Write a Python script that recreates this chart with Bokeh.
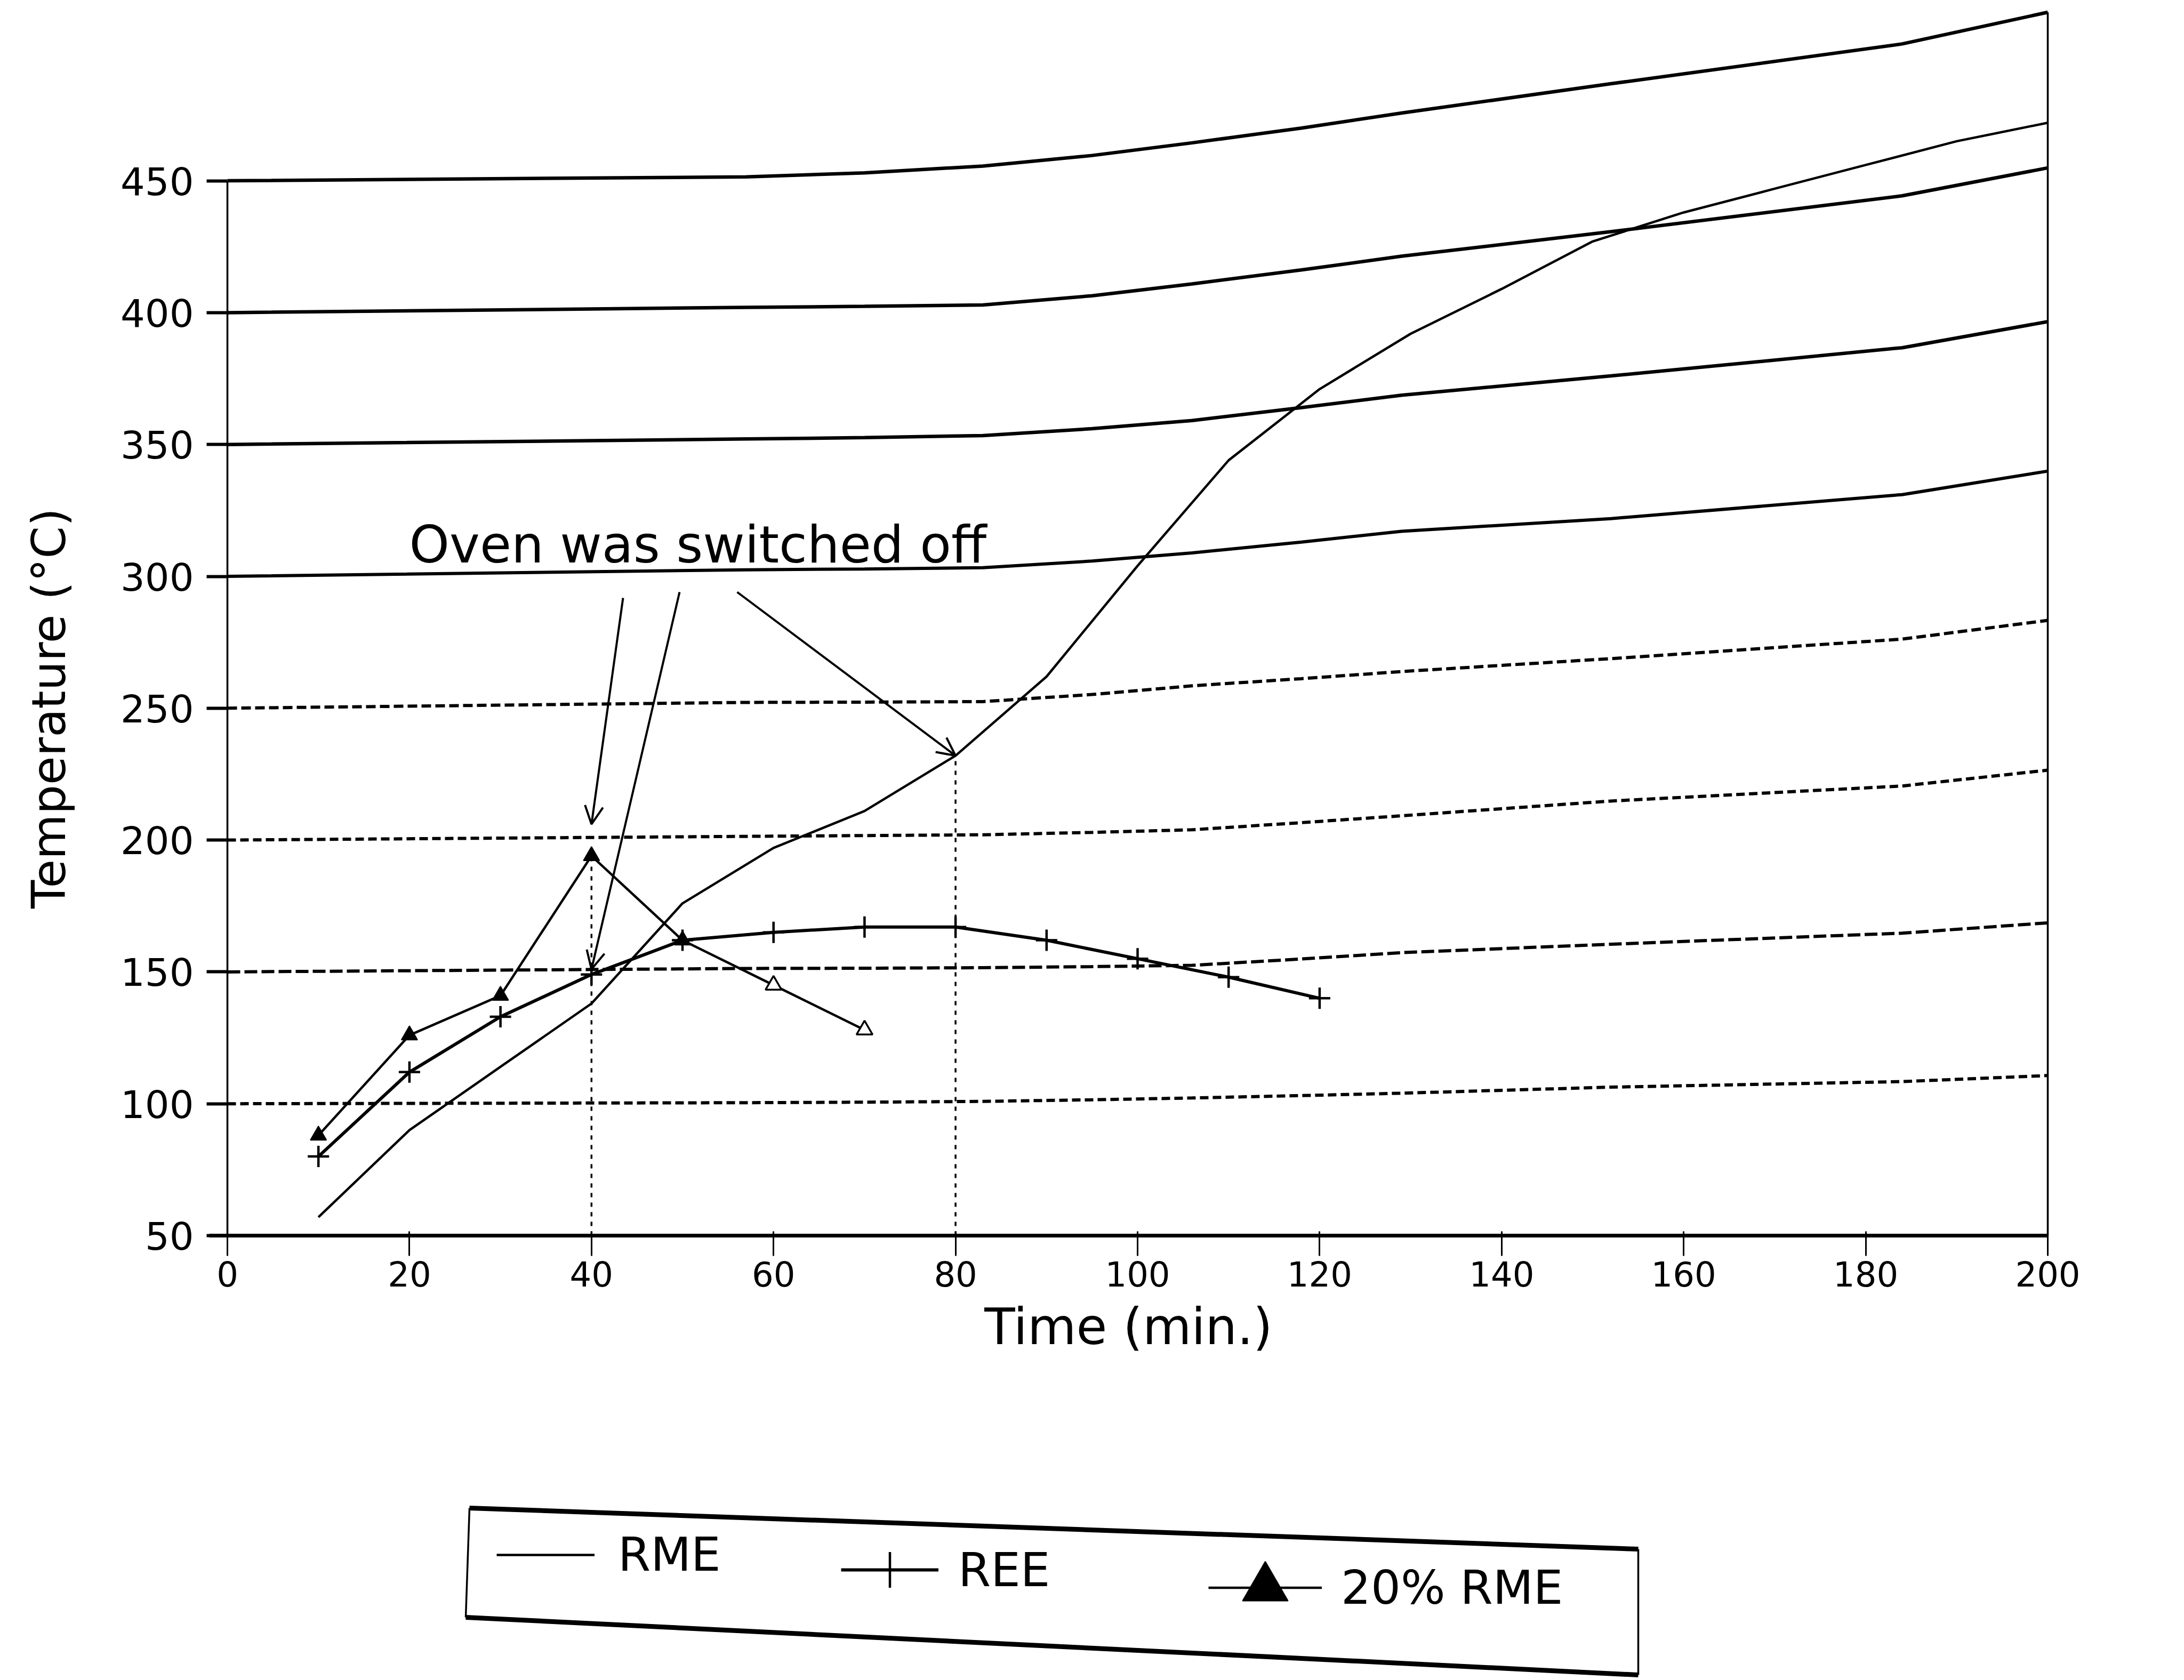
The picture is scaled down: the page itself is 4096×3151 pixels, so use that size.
from bokeh.plotting import figure
from bokeh.models import (Range1d, FixedTicker, Legend, LegendItem, Label,
                          Arrow, OpenHead)
from bokeh.embed import file_html
from bokeh.resources import INLINE

# ---------------- data ----------------
time_rme = [10, 20, 30, 40, 50, 60, 70, 80, 90, 100, 110, 120, 130, 140,
            150, 160, 170, 180, 190, 200]
temp_rme = [57, 90, 114, 138, 176, 197, 211, 232, 262, 304, 344, 371, 392,
            409, 427, 438, 447, 456, 465, 472]

time_ree = [10, 20, 30, 40, 50, 60, 70, 80, 90, 100, 110, 120]
temp_ree = [80, 112, 133, 149, 162, 165, 167, 167, 162, 155, 148, 140]

time_mix = [10, 20, 30, 40, 50, 60, 70]
temp_mix = [88, 126, 141, 194, 162, 145, 128]

x_ticks = [0, 20, 40, 60, 80, 100, 120, 140, 160, 180, 200]
y_ticks = [50, 100, 150, 200, 250, 300, 350, 400, 450]

# reference lines of the scanned grid (they drift upward to the right)
grid_time = [0, 57, 70, 83, 95, 106, 118, 129, 152, 184, 200]
drift_450 = [0, 1.5, 3.0, 5.6, 9.6, 14.4, 20.0, 25.7, 36.8, 51.9, 63.9]
drift_400 = [0, 2.0, 2.4, 2.9, 6.4, 10.9, 16.2, 21.4, 30.7, 44.3, 54.9]
drift_350 = [0, 2.1, 2.6, 3.4, 6.0, 9.1, 14.0, 18.7, 26.0, 36.7, 46.6]
drift_300 = [0, 2.5, 2.8, 3.3, 5.8, 8.9, 13.0, 17.1, 21.9, 31.0, 39.9]
drift_250 = [0, 2.2, 2.3, 2.5, 5.2, 8.5, 11.2, 13.9, 18.8, 26.2, 33.3]
drift_200 = [0, 1.4, 1.7, 2.0, 2.9, 3.9, 6.6, 9.2, 14.8, 20.5, 26.5]
drift_150 = [0, 1.3, 1.4, 1.6, 2.0, 2.5, 4.9, 7.3, 10.5, 14.7, 18.6]
drift_100 = [0, 0.4, 0.6, 0.9, 1.5, 2.2, 3.1, 4.0, 6.3, 8.4, 10.7]

annotation_text = "Oven was switched off"

# ---------------- layout ----------------
W, H = 4096, 3151
PX_X = 17.07   # pixels per minute
PX_Y = 4.946   # pixels per degree
X_START = -426 / PX_X
X_END = X_START + W / PX_X
Y_END = 50 + 2317 / PX_Y
Y_START = Y_END - H / PX_Y


def sx(px):
    return X_START + px / PX_X


def sy(py):
    return Y_END - py / PX_Y


FONT = "DejaVu Sans"
INK = "black"

p = figure(width=W, height=H, x_range=Range1d(X_START, X_END),
           y_range=Range1d(Y_START, Y_END), output_backend="svg",
           toolbar_location=None, min_border=0, title=None)
p.outline_line_color = None
p.grid.visible = False
p.background_fill_color = "white"
p.border_fill_color = "white"

# x axis
xa = p.xaxis[0]
xa.fixed_location = 50
xa.bounds = (-2, 200)
xa.ticker = FixedTicker(ticks=x_ticks)
xa.minor_tick_line_color = None
xa.axis_line_color = INK
xa.major_tick_line_color = INK
xa.major_tick_out = 38
xa.major_tick_in = 8
xa.major_tick_line_width = 3
xa.axis_line_width = 7
xa.major_label_text_font = FONT
xa.major_label_text_font_size = "64px"
xa.major_label_text_color = INK
xa.major_label_standoff = 10
xa.axis_label = "Time (min.)"
xa.axis_label_text_font = FONT
xa.axis_label_text_font_size = "94px"
xa.axis_label_text_font_style = "normal"
xa.axis_label_text_color = INK
xa.axis_label_standoff = 18

# y axis
ya = p.yaxis[0]
ya.fixed_location = 0
ya.bounds = (50, 450)
ya.ticker = FixedTicker(ticks=y_ticks)
ya.minor_tick_line_color = None
ya.axis_line_color = INK
ya.major_tick_line_color = INK
ya.major_tick_out = 39
ya.major_tick_in = 0
ya.major_tick_line_width = 6
ya.axis_line_width = 3.5
ya.major_label_text_font = FONT
ya.major_label_text_font_size = "72px"
ya.major_label_text_color = INK
ya.major_label_standoff = 24
ya.axis_label = "Temperature (°C)"
ya.axis_label_text_font = FONT
ya.axis_label_text_font_size = "87px"
ya.axis_label_text_font_style = "normal"
ya.axis_label_text_color = INK
ya.axis_label_standoff = 80

# drifting grid lines
grid_specs = [
    (450, drift_450, "solid", 6.5),
    (400, drift_400, "solid", 6.5),
    (350, drift_350, "solid", 6.5),
    (300, drift_300, "solid", 6),
    (250, drift_250, "18 8", 6),
    (200, drift_200, "16 8", 6),
    (150, drift_150, "24 8", 6),
    (100, drift_100, "16 8", 6),
]
for level, drift, dash, width in grid_specs:
    p.line(grid_time, [level + d for d in drift], line_color=INK,
           line_width=width, line_dash=dash)

# right frame edge
p.line([200, 200], [50, 450 + drift_450[-1]], line_color=INK, line_width=3.5)

# vertical dotted guides
p.line([40, 40], [50, temp_mix[time_mix.index(40)]], line_color=INK,
       line_width=3.5, line_dash="8 10")
p.line([80, 80], [50, temp_rme[time_rme.index(80)]], line_color=INK,
       line_width=3.5, line_dash="8 10")

# series
rme_r = p.line(time_rme, temp_rme, line_color=INK, line_width=4.5)
ree_l = p.line(time_ree, temp_ree, line_color=INK, line_width=6)
ree_m = p.scatter(time_ree, temp_ree, marker="cross", size=40,
                  line_color=INK, line_width=4.5)
mix_l = p.line(time_mix, temp_mix, line_color=INK, line_width=4.5)
mix_m = p.scatter(time_mix[:5], temp_mix[:5], marker="triangle", size=30,
                  fill_color=INK, line_color=INK, line_width=2)
p.scatter(time_mix[5:], temp_mix[5:], marker="triangle", size=30,
          fill_color="white", line_color=INK, line_width=3.5)

# annotation
p.add_layout(Label(x=sx(767), y=sy(1021), text=annotation_text,
                   text_font=FONT, text_font_size="96px",
                   text_baseline="alphabetic", text_align="left",
                   text_color=INK))
arrow_specs = [
    ((1168, 1121), (40, temp_mix[time_mix.index(40)] + 12)),
    ((1274, 1110), (40, temp_ree[time_ree.index(40)] + 2)),
    ((1382, 1110), (80, temp_rme[time_rme.index(80)])),
]
for (tx, ty), (hx, hy) in arrow_specs:
    p.add_layout(Arrow(end=OpenHead(size=34, line_width=4, line_color=INK),
                       x_start=sx(tx), y_start=sy(ty), x_end=hx, y_end=hy,
                       line_color=INK, line_width=4))

# legend frame (skewed, as in the scan)
TL, TR, BL, BR = (880, 2828), (3072, 2905), (873, 3033), (3072, 3141)
for a, b, w in [(TL, TR, 9), (BL, BR, 9), (TL, BL, 3.5), (TR, BR, 3.5)]:
    p.line([sx(a[0]), sx(b[0])], [sy(a[1]), sy(b[1])], line_color=INK,
           line_width=w)

legend_specs = [
    ("RME", [rme_r], (931, 184), 184, 60, 44),
    ("REE", [ree_l, ree_m], (1577, 123), 183, 168, 37),
    ("20% RME", [mix_l, mix_m], (2266, 66), 213, 215, 36),
]
for label, rends, loc, gw, gh, stand in legend_specs:
    leg = Legend(items=[LegendItem(label=label, renderers=rends)],
                 location=loc, orientation="horizontal", glyph_width=gw,
                 glyph_height=gh, label_standoff=stand, padding=0, margin=0,
                 spacing=0, border_line_color=None, background_fill_alpha=0,
                 label_text_font=FONT, label_text_font_size="88px",
                 label_text_color=INK)
    p.add_layout(leg)

open("out.html", "w").write(file_html(p, INLINE, title="Temperature vs time"))
